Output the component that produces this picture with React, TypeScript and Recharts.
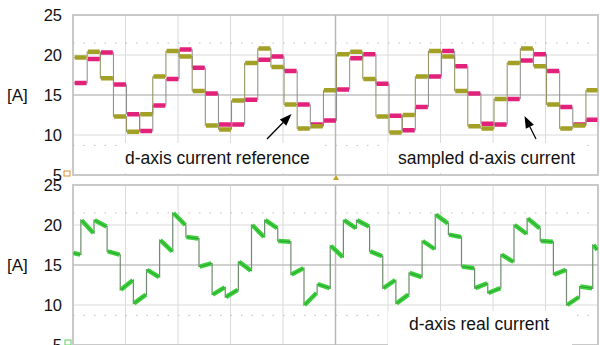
import {
  LineChart,
  Line,
  XAxis,
  YAxis,
  CartesianGrid,
  ReferenceLine,
  ReferenceArea,
} from "recharts";

// scope capture: 10 horizontal divisions, one current-control sample every 1/4 division
const STEP = 0.25;
const TOP_SHIFT = 0.02;   // sample edges vs. left border (div)
const REAL_SHIFT = -0.1;  // real current updates slightly ahead of the drawn reference

const TICKS = [5, 10, 15, 20, 25];
const H_GRID = [5, 7.5, 10, 12.5, 15, 17.5, 20, 22.5, 25];
const V_GRID = [0, 1, 2, 3, 4, 5, 6, 7, 8, 9, 10];

// d-axis current reference [A], one value per sample
const refCurrent = [
  19.7, 20.4, 17.1, 12.3, 10.4, 12.6, 17.3, 20.5, 19.8, 15.5,
  11.2, 10.7, 14.3, 19.0, 20.8, 18.5, 13.8, 10.8, 11.1, 15.6,
  20.1, 20.4, 17.0, 12.3, 10.3, 12.5, 17.3, 20.5, 19.8, 15.5,
  11.1, 10.8, 14.5, 19.0, 20.8, 18.6, 13.8, 10.8, 11.2, 15.6,
];

// sampled d-axis current [A]
const sampledCurrent = [
  16.5, 19.5, 20.3, 16.3, 12.6, 10.5, 13.7, 17.0, 20.7, 18.4,
  15.2, 11.3, 11.3, 14.4, 19.4, 19.8, 18.0, 13.8, 11.3, 11.8,
  15.7, 19.6, 20.1, 16.4, 12.4, 10.6, 13.5, 17.3, 20.5, 18.6,
  15.2, 11.4, 11.3, 14.5, 19.3, 20.1, 18.0, 13.5, 11.3, 11.9,
];

// real d-axis current [A]: level right after each update and just before the next
const realStart = [
  16.5, 20.6, 20.6, 16.7, 11.9, 10.2, 14.4, 18.1, 21.5, 18.5,
  14.8, 11.3, 11.0, 15.4, 20.0, 20.6, 18.0, 13.8, 10.0, 12.6,
  17.4, 20.6, 20.6, 16.7, 12.1, 10.2, 14.0, 18.0, 21.3, 18.8,
  14.8, 12.1, 11.5, 16.3, 20.0, 20.8, 18.0, 13.8, 10.0, 12.3,
  17.5,
];
const realEnd = [
  16.3, 19.0, 19.8, 16.3, 13.1, 11.3, 13.5, 16.7, 20.0, 18.3,
  15.2, 12.2, 11.9, 14.3, 18.5, 19.6, 17.9, 14.6, 11.5, 12.1,
  16.0, 19.6, 19.8, 16.1, 13.1, 11.3, 13.5, 17.0, 20.2, 18.5,
  14.6, 12.7, 12.1, 15.4, 18.9, 19.6, 17.9, 14.4, 11.0, 12.1,
  16.9,
];

type Pt = { t: number; v: number | null };

const clampT = (t: number) => Math.min(10, Math.max(0, t));

// whole staircase, thin trace incl. the vertical edges
function stairs(vals: number[], shift: number): Pt[] {
  const pts: Pt[] = [];
  vals.forEach((v, k) => {
    pts.push({ t: clampT(k * STEP + shift), v });
    pts.push({ t: clampT((k + 1) * STEP + shift), v });
  });
  return pts;
}

// only the flat parts, so they can be drawn thick (noise band)
function plateaus(start: number[], end: number[], shift: number): Pt[] {
  const pts: Pt[] = [];
  start.forEach((a, k) => {
    const t0 = clampT(k * STEP + shift);
    const t1 = clampT((k + 1) * STEP + shift);
    pts.push({ t: Math.min(t0 + 0.012, t1), v: a });
    pts.push({ t: Math.max(t1 - 0.012, t0), v: end[k] });
    pts.push({ t: t1, v: null });
  });
  return pts;
}

function ramps(start: number[], end: number[], shift: number): Pt[] {
  const pts: Pt[] = [];
  start.forEach((a, k) => {
    pts.push({ t: clampT(k * STEP + shift), v: a });
    pts.push({ t: clampT((k + 1) * STEP + shift), v: end[k] });
  });
  return pts;
}

const FONT = "'Liberation Sans', Arial, sans-serif";
const OLIVE = "#a3a026";
const MAGENTA = "#e2227a";
const GREEN = "#3ad03a";

function Panel({ children }: { children: React.ReactNode }) {
  return (
    <LineChart width={600} height={190} margin={{ top: 15, right: 2, bottom: 15, left: 0 }}>
      <CartesianGrid
        stroke="#dadada"
        strokeWidth={1}
        horizontalValues={H_GRID}
        verticalValues={V_GRID}
      />
      <XAxis
        type="number"
        dataKey="t"
        domain={[0, 10]}
        ticks={V_GRID}
        hide
        allowDataOverflow
      />
      <YAxis
        type="number"
        dataKey="v"
        domain={[5, 25]}
        ticks={TICKS}
        width={73}
        tickLine={false}
        axisLine={false}
        tickSize={0}
        tickMargin={11}
        allowDataOverflow
        tick={{ fill: "#111", fontSize: 16.5, fontFamily: FONT }}
        label={{ value: "[A]", position: "insideLeft", offset: 7, fill: "#111", fontSize: 17, fontFamily: FONT }}
      />
      <ReferenceLine y={21.5} stroke="#bdbdbd" strokeDasharray="1.5 9" />
      <ReferenceLine y={8.7} stroke="#bdbdbd" strokeDasharray="1.5 9" />
      <ReferenceLine y={15} stroke="#b4b4b4" strokeWidth={1.2} />
      <ReferenceLine x={5} stroke="#b8b8b8" strokeWidth={1.5} />
      <ReferenceArea x1={0} x2={10} y1={5} y2={25} fill="none" stroke="#c9c9c9" strokeWidth={2} />
      {children}
    </LineChart>
  );
}

function Arrow({ x1, y1, x2, y2 }: { x1: number; y1: number; x2: number; y2: number }) {
  const len = Math.hypot(x2 - x1, y2 - y1);
  const ux = (x2 - x1) / len;
  const uy = (y2 - y1) / len;
  const bx = x2 - ux * 12;
  const by = y2 - uy * 12;
  const px = -uy * 4.5;
  const py = ux * 4.5;
  return (
    <g>
      <line x1={x1} y1={y1} x2={bx} y2={by} stroke="#000" strokeWidth={1.3} />
      <polygon points={`${x2},${y2} ${bx + px},${by + py} ${bx - px},${by - py}`} fill="#000" />
    </g>
  );
}

export default function App() {
  return (
    <div style={{ position: "relative", width: 600, height: 345, overflow: "hidden", background: "#fff" }}>
      <style>{"html,body{margin:0;padding:0;overflow:hidden;background:#fff}"}</style>

      <div style={{ position: "absolute", left: 0, top: 0 }}>
        <Panel>
          <Line data={stairs(sampledCurrent, TOP_SHIFT)} dataKey="v" stroke="#8a8a8a" strokeWidth={1} dot={false} isAnimationActive={false} />
          <Line data={stairs(refCurrent, TOP_SHIFT)} dataKey="v" stroke="#8c8c5a" strokeWidth={1} dot={false} isAnimationActive={false} />
          <Line data={plateaus(sampledCurrent, sampledCurrent, TOP_SHIFT)} dataKey="v" stroke={MAGENTA} strokeWidth={4.5} dot={false} connectNulls={false} isAnimationActive={false} />
          <Line data={plateaus(refCurrent, refCurrent, TOP_SHIFT)} dataKey="v" stroke={OLIVE} strokeWidth={4.5} dot={false} connectNulls={false} isAnimationActive={false} />
        </Panel>
      </div>

      <div style={{ position: "absolute", left: 0, top: 170 }}>
        <Panel>
          <Line data={ramps(realStart, realEnd, REAL_SHIFT)} dataKey="v" stroke="#6f8a6f" strokeWidth={1.2} dot={false} isAnimationActive={false} />
          <Line data={plateaus(realStart, realEnd, REAL_SHIFT)} dataKey="v" stroke={GREEN} strokeWidth={4.5} dot={false} connectNulls={false} isAnimationActive={false} />
          <Line data={plateaus(realStart, realEnd, REAL_SHIFT)} dataKey="v" stroke="#2f9f35" strokeWidth={1} dot={false} connectNulls={false} isAnimationActive={false} />
        </Panel>
      </div>

      <svg width={600} height={345} style={{ position: "absolute", left: 0, top: 0, pointerEvents: "none" }}>
        <g fontFamily={FONT} fontSize={17.5} fill="#111">
          <rect x={118} y={143} width={202} height={30} fill="#fff" />
          <text x={125} y={164}>d-axis current reference</text>
          <rect x={388} y={143} width={199} height={30} fill="#fff" />
          <text x={398} y={164}>sampled d-axis current</text>
          <rect x={388} y={311} width={184} height={34} fill="#fff" />
          <text x={409} y={330}>d-axis real current</text>
        </g>
        <Arrow x1={267} y1={139} x2={291.5} y2={114} />
        <Arrow x1={536} y1={139} x2={524.5} y2={116} />
        {/* trigger marker and channel tags */}
        <polygon points="333,180 339,180 336,175" fill="#c8a020" />
        <rect x={64} y={171} width={6} height={5} fill="none" stroke="#e08a30" strokeWidth={1} />
        <rect x={65} y={340} width={6} height={5} fill="none" stroke="#5ad05a" strokeWidth={1} />
      </svg>
    </div>
  );
}
